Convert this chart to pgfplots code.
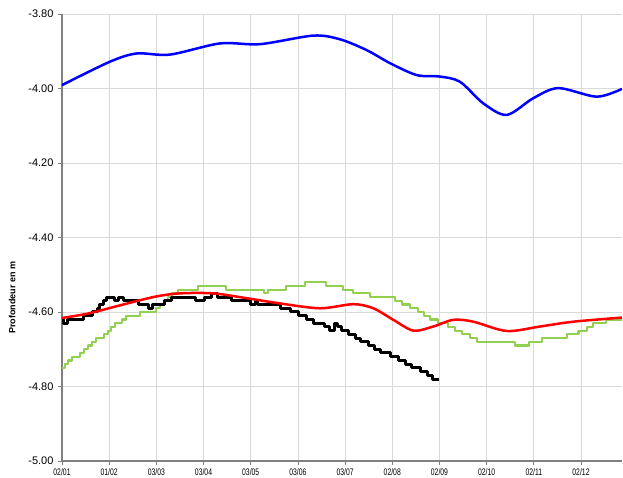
\documentclass[border=0pt]{standalone}
\usepackage{pgfplots}
\pgfplotsset{compat=1.18}
\usepackage{fontspec}
\setmainfont{Liberation Sans}
\newfontfamily\narrowfont[FakeStretch=0.72]{Liberation Sans}
\definecolor{bluel}{RGB}{0,0,255}
\definecolor{redl}{RGB}{255,0,0}
\definecolor{greenl}{RGB}{146,208,80}
\definecolor{gridc}{RGB}{217,217,217}
\definecolor{axc}{RGB}{128,128,128}
\begin{document}
\begin{tikzpicture}
\useasboundingbox (-62pt,-17pt) rectangle (561pt,461pt);
\begin{axis}[
  at={(0,0)}, anchor=south west,
  scale only axis, width=560pt, height=447pt,
  xmin=0, xmax=11.869, ymin=-5, ymax=-3.8,
  xtick={0,1,2,3,4,5,6,7,8,9,10,11},
  xticklabels={02/01,01/02,03/03,03/04,03/05,03/06,03/07,02/08,02/09,02/10,02/11,02/12},
  ytick={-5,-4.8,-4.6,-4.4,-4.2,-4,-3.8},
  /pgf/number format/assume math mode=true,
  yticklabel style={/pgf/number format/fixed, /pgf/number format/fixed zerofill, /pgf/number format/precision=2, font=\fontsize{11}{12}\selectfont, xshift=-1pt},
  xticklabel style={font=\narrowfont\fontsize{9.5}{10}\selectfont},
  grid=major, major grid style={gridc, line width=0.8pt},
  axis lines*=left,
  axis line style={axc, line width=1.2pt},
  tick align=outside, major tick length=4pt,
  tick style={axc, line width=0.8pt},
  ylabel={\bfseries Profondeur en m},
  ylabel style={at={(axis description cs:-0.089,0.365)}, anchor=center, font=\fontsize{9}{10}\selectfont},
]
% green
\addplot[const plot, greenl, line width=2.2pt, line join=round] coordinates {
(0,-4.75) (0.064,-4.74) (0.127,-4.73) (0.212,-4.72) (0.382,-4.71) (0.466,-4.70)
(0.551,-4.69) (0.636,-4.68) (0.721,-4.67) (0.890,-4.66) (0.975,-4.65) (1.039,-4.64)
(1.123,-4.63) (1.272,-4.62) (1.357,-4.61) (1.653,-4.60) (1.992,-4.59) (2.077,-4.58)
(2.162,-4.57) (2.247,-4.56) (2.331,-4.55) (2.459,-4.54) (2.883,-4.53) (3.476,-4.54)
(4.281,-4.55) (4.366,-4.54) (4.748,-4.53) (5.150,-4.52) (5.596,-4.53) (5.956,-4.54)
(6.168,-4.55) (6.528,-4.56) (7.058,-4.57) (7.206,-4.58) (7.376,-4.59) (7.546,-4.60)
(7.673,-4.61) (7.800,-4.62) (7.970,-4.63) (8.181,-4.64) (8.330,-4.65) (8.478,-4.66)
(8.648,-4.67) (8.796,-4.68) (9.602,-4.69) (9.900,-4.68) (10.167,-4.67) (10.695,-4.66)
(10.949,-4.65) (11.128,-4.64) (11.255,-4.63) (11.530,-4.62) (11.869,-4.62)
};
% black
\addplot[const plot, black, line width=3pt, line join=round] coordinates {
(0,-4.62) (0.042,-4.63) (0.127,-4.62) (0.466,-4.61) (0.636,-4.60) (0.742,-4.59)
(0.805,-4.58) (0.869,-4.57) (0.933,-4.56) (1.123,-4.57) (1.187,-4.56) (1.314,-4.57)
(1.611,-4.58) (1.823,-4.59) (1.908,-4.58) (2.162,-4.57) (2.331,-4.56) (2.840,-4.57)
(3.010,-4.56) (3.158,-4.55) (3.306,-4.56) (3.603,-4.57) (3.985,-4.58) (4.091,-4.57)
(4.154,-4.58) (4.621,-4.59) (4.833,-4.60) (5.002,-4.61) (5.172,-4.62) (5.341,-4.63)
(5.553,-4.64) (5.680,-4.65) (5.765,-4.63) (5.829,-4.64) (5.914,-4.65) (6.062,-4.66)
(6.210,-4.67) (6.337,-4.68) (6.486,-4.69) (6.613,-4.70) (6.740,-4.71) (6.952,-4.72)
(7.122,-4.73) (7.270,-4.74) (7.418,-4.75) (7.588,-4.76) (7.736,-4.77) (7.842,-4.78)
(7.991,-4.78)
};
% red
\addplot[smooth, redl, line width=2.5pt] coordinates {
(0,-4.616) (0.557,-4.604) (1.265,-4.581) (1.971,-4.559) (2.501,-4.550) (3.207,-4.550)
(3.915,-4.563) (4.621,-4.577) (5.468,-4.590) (6.174,-4.579) (6.598,-4.590) (7.022,-4.621)
(7.446,-4.650) (7.870,-4.639) (8.294,-4.621) (8.718,-4.626) (9.426,-4.651) (10.131,-4.639)
(10.837,-4.626) (11.869,-4.615)
};
% blue
\addplot[smooth, bluel, line width=2.5pt] coordinates {
(0,-3.991) (1.017,-3.928) (1.583,-3.906) (2.289,-3.909) (3.349,-3.879) (4.197,-3.881)
(5.327,-3.858) (5.893,-3.868) (6.458,-3.897) (6.952,-3.932) (7.518,-3.964) (8.012,-3.968)
(8.436,-3.982) (8.930,-4.040) (9.426,-4.071) (9.989,-4.026) (10.519,-3.999) (11.333,-4.022)
(11.869,-4.001)
};
\end{axis}
\end{tikzpicture}
\end{document}
